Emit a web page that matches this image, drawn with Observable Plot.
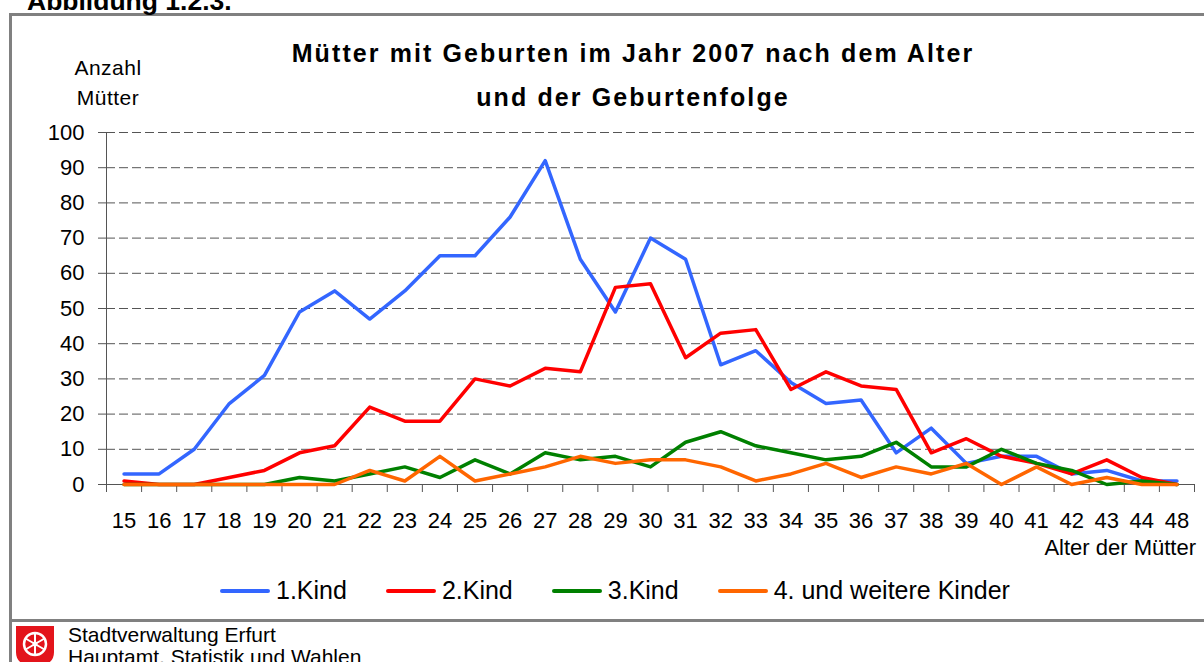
<!DOCTYPE html>
<html><head><meta charset="utf-8">
<script src="https://cdn.jsdelivr.net/npm/d3@7"></script>
<script src="https://cdn.jsdelivr.net/npm/@observablehq/plot@0.6"></script>
<style>
body{margin:0;background:#fff;font-family:"Liberation Sans",Arial,sans-serif;color:#000;}
#page{position:relative;width:1204px;height:662px;overflow:hidden;background:#fff;}
.abs{position:absolute;white-space:nowrap;}
#chart{position:absolute;left:0;top:0;}
#frame{position:absolute;left:9px;top:13px;width:1300px;height:700px;border-left:3px solid #808080;border-top:3px solid #808080;box-sizing:border-box;}
#sep{position:absolute;left:9px;top:619px;width:1300px;height:3px;background:#808080;}
#abb{left:27px;top:-14px;font-size:26.5px;font-weight:bold;}
#title{left:183px;width:900px;top:31px;text-align:center;font-size:25px;font-weight:bold;letter-spacing:2.1px;line-height:44px;}
#ylab{left:58px;width:100px;top:53px;text-align:center;font-size:21px;line-height:30px;letter-spacing:0.5px;}
#xlab{right:8px;top:535px;font-size:22px;}
#legend{left:220px;top:576px;display:flex;gap:39px;font-size:25px;align-items:center;}
.li{display:flex;align-items:center;gap:6px;}
.sw{width:50px;height:4px;border-radius:2px;}
#foot{left:68px;top:624px;font-size:21px;line-height:22px;}
#logo{position:absolute;left:16px;top:626px;}
</style></head><body>
<div id="page">
  <div id="frame"></div>
  <div id="sep"></div>
  <div id="abb" class="abs">Abbildung 1.2.3.</div>
  <div id="title" class="abs">Mütter mit Geburten im Jahr 2007 nach dem Alter<br>und der Geburtenfolge</div>
  <div id="ylab" class="abs">Anzahl<br>Mütter</div>
  <div id="xlab" class="abs">Alter der Mütter</div>
  <div id="legend" class="abs"></div>
  <svg id="logo" width="38" height="40" viewBox="0 0 38 40">
    <path d="M0 0 H38 V26 Q38 40 19 40 Q0 40 0 26 Z" fill="#e3141b"/>
    <g transform="translate(19,18)" stroke="#fff" fill="none">
      <circle r="11" stroke-width="2.5"/>
      <circle r="2.5" fill="#fff" stroke="none"/>
      <line x1="0" y1="-11" x2="0" y2="11" stroke-width="2"/>
      <line x1="-9.5" y1="-5.5" x2="9.5" y2="5.5" stroke-width="2"/>
      <line x1="-9.5" y1="5.5" x2="9.5" y2="-5.5" stroke-width="2"/>
    </g>
  </svg>
  <div id="foot" class="abs">Stadtverwaltung Erfurt<br>Hauptamt, Statistik und Wahlen</div>
</div>
<script>
// ---- data ----
const ages = ["15","16","17","18","19","20","21","22","23","24","25","26","27","28","29","30","31","32","33","34","35","36","37","38","39","40","41","42","43","44","48"];
const kind1 = [3,3,10,23,31,49,55,47,55,65,65,76,92,64,49,70,64,34,38,29,23,24,9,16,6,8,8,3,4,1,1];
const kind2 = [1,0,0,2,4,9,11,22,18,18,30,28,33,32,56,57,36,43,44,27,32,28,27,9,13,8,6,3,7,2,0];
const kind3 = [0,0,0,0,0,2,1,3,5,2,7,3,9,7,8,5,12,15,11,9,7,8,12,5,5,10,6,4,0,1,0];
const kind4 = [0,0,0,0,0,0,0,4,1,8,1,3,5,8,6,7,7,5,1,3,6,2,5,3,6,0,5,0,2,0,0];
const seriesNames = ["1.Kind","2.Kind","3.Kind","4. und weitere Kinder"];
const seriesColors = ["#3366ff","#ff0000","#008000","#ff6600"];
const yTicks = [0,10,20,30,40,50,60,70,80,90,100];

const seriesValues = [kind1, kind2, kind3, kind4];
const rows = seriesValues.flatMap((vals, si) => vals.map((v, i) => ({i, v, s: seriesNames[si]})));

const chart = Plot.plot({
  width: 1204, height: 662,
  marginTop: 132, marginBottom: 178, marginLeft: 106, marginRight: 10,
  style: {background: "transparent", fontFamily: "'Liberation Sans', Arial, sans-serif", color: "#000"},
  x: {domain: [-0.5, ages.length - 0.5]},
  y: {domain: [0, 100]},
  color: {domain: seriesNames, range: seriesColors},
  marks: [
    Plot.gridY(yTicks.filter(t => t > 0), {stroke: "#555", strokeOpacity: 1, strokeDasharray: "9,4"}),
    Plot.axisY(yTicks, {tickSize: 8, tickPadding: 14, fontSize: 22, stroke: "#555", fill: "#000", label: null}),
    Plot.axisX(d3.range(ages.length + 1).map(k => k - 0.5), {tickSize: 8, tickFormat: () => "", stroke: "#555", label: null}),
    Plot.axisX(d3.range(ages.length), {tickSize: 0, tickPadding: 28, tickFormat: i => ages[i], fontSize: 22, fill: "#000", label: null}),
    Plot.ruleY([0], {stroke: "#555"}),
    Plot.ruleX([-0.5], {stroke: "#555"}),
    Plot.line(rows, {x: "i", y: "v", stroke: "s", strokeWidth: 3.5, strokeLinejoin: "round", strokeLinecap: "round"})
  ]
});
chart.id = "chart";
document.getElementById("page").insertBefore(chart, document.getElementById("abb"));

const legend = document.getElementById("legend");
seriesNames.forEach((n, k) => {
  const it = document.createElement("div");
  it.className = "li";
  it.innerHTML = `<span class="sw" style="background:${seriesColors[k]}"></span><span>${n}</span>`;
  legend.appendChild(it);
});
</script>
</body></html>
